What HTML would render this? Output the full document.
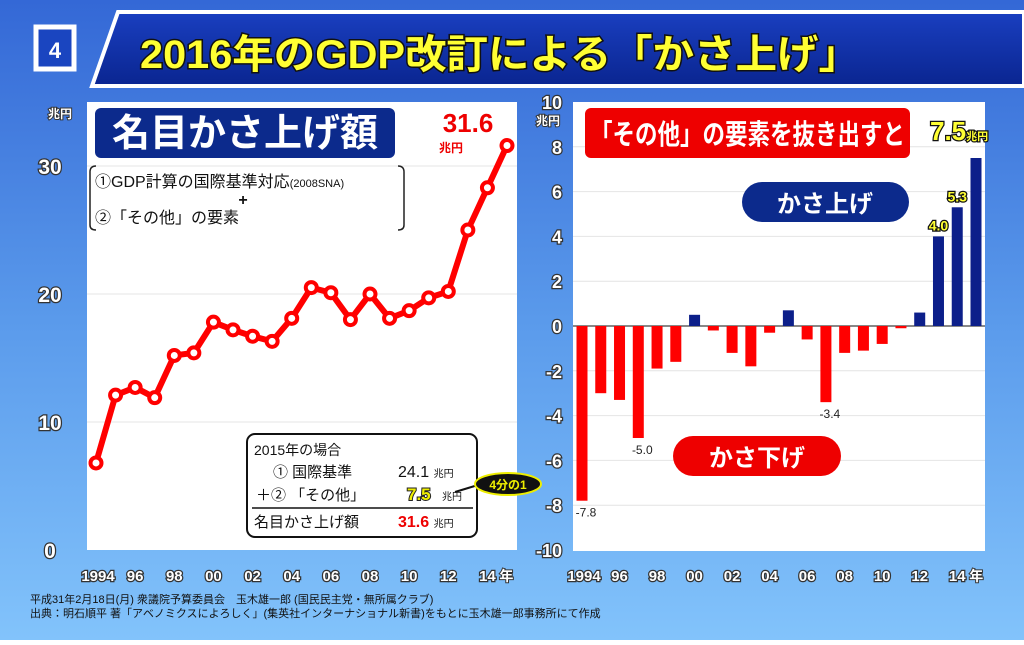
<!DOCTYPE html>
<html><head><meta charset="utf-8"><style>
body{margin:0;width:1024px;height:640px;overflow:hidden;font-family:"Liberation Sans","Noto Sans CJK JP",sans-serif}
text{font-family:"Liberation Sans","Noto Sans CJK JP",sans-serif;paint-order:stroke}
</style></head><body>
<svg id="s" width="1024" height="640" viewBox="0 0 1024 640" xmlns="http://www.w3.org/2000/svg">
<defs>
<linearGradient id="bg" x1="0" y1="0" x2="0" y2="1"><stop offset="0" stop-color="#3468d6"/><stop offset="0.5" stop-color="#5a9aeb"/><stop offset="1" stop-color="#82c3fb"/></linearGradient>
<linearGradient id="ban" x1="0" y1="0" x2="0" y2="1"><stop offset="0" stop-color="#1a3fc0"/><stop offset="1" stop-color="#0a2590"/></linearGradient>
</defs>
<rect width="1024" height="640" fill="url(#bg)"/>
<rect x="36" y="27" width="38" height="42" fill="#1a45c0" stroke="#fff" stroke-width="5"/>
<text x="55" y="58" font-size="22" font-weight="bold" fill="#fff" text-anchor="middle">4</text>
<polygon points="118,12 1024,12 1024,86 92,86" fill="url(#ban)" stroke="#fff" stroke-width="4"/>
<text x="140" y="68" font-size="40" font-weight="bold" fill="#ffff33" stroke="#111" stroke-width="3" textLength="720" lengthAdjust="spacingAndGlyphs">2016年のGDP改訂による「かさ上げ」</text>

<rect x="87" y="102" width="430" height="448" fill="#fff"/>
<rect x="573" y="102" width="412" height="449" fill="#fff"/>
<g id="left"></g>
<g id="right"></g>

<rect x="95" y="108" width="300" height="50" rx="6" fill="#0c2a8c"/>
<text x="245" y="146" font-size="38" font-weight="bold" fill="#fff" text-anchor="middle">名目かさ上げ額</text>
<text x="468" y="132" font-size="26" font-weight="bold" fill="#e00" text-anchor="middle">31.6</text>
<text x="451" y="152" font-size="12" font-weight="bold" fill="#e00" text-anchor="middle">兆円</text>
<path d="M96,166 Q90,166 90,172 L90,225 Q90,230 96,230 M398,166 Q404,166 404,172 L404,225 Q404,230 398,230" fill="none" stroke="#222" stroke-width="1.5"/>
<text x="95" y="187" font-size="16" fill="#111">①GDP計算の国際基準対応<tspan font-size="11">(2008SNA)</tspan></text>
<text x="243" y="205" font-size="16" font-weight="bold" fill="#111" text-anchor="middle">+</text>
<text x="95" y="223" font-size="16" fill="#111">②「その他」の要素</text>

<rect x="247" y="434" width="230" height="103" rx="8" fill="#fff" stroke="#111" stroke-width="2"/>
<text x="254" y="455" font-size="14" fill="#111">2015年の場合</text>
<text x="273" y="477" font-size="15" fill="#111">① 国際基準</text>
<text x="398" y="477" font-size="16" fill="#111">24.1 <tspan font-size="10">兆円</tspan></text>
<text x="256" y="500" font-size="15" fill="#111">＋② 「その他」</text>
<text x="407" y="500" font-size="17" font-weight="bold" fill="#ee0" stroke="#222" stroke-width="2">7.5</text>
<text x="442" y="500" font-size="10" fill="#111">兆円</text>
<line x1="252" y1="508" x2="473" y2="508" stroke="#111" stroke-width="1.5"/>
<text x="254" y="527" font-size="15" fill="#111">名目かさ上げ額</text>
<text x="398" y="527" font-size="16" font-weight="bold" fill="#e00">31.6 <tspan font-size="10" fill="#111" font-weight="normal">兆円</tspan></text>
<line x1="455" y1="492" x2="478" y2="485" stroke="#111" stroke-width="2"/>
<ellipse cx="508" cy="484" rx="33" ry="11" fill="#111" stroke="#ee0" stroke-width="2"/>
<text x="508" y="489" font-size="12" font-weight="bold" fill="#ee0" text-anchor="middle">4分の1</text>

<rect x="585" y="108" width="325" height="50" rx="6" fill="#e00"/>
<text x="590" y="144" font-size="28" font-weight="bold" fill="#fff" textLength="315" lengthAdjust="spacingAndGlyphs">「その他」の要素を抜き出すと</text>
<text x="930" y="140" font-size="26" font-weight="bold" fill="#ff3" stroke="#111" stroke-width="2.5">7.5<tspan font-size="11">兆円</tspan></text>
<rect x="742" y="182" width="167" height="40" rx="20" fill="#0c2a8c"/>
<text x="825" y="212" font-size="24" font-weight="bold" fill="#fff" text-anchor="middle">かさ上げ</text>
<rect x="673" y="436" width="168" height="40" rx="20" fill="#e00"/>
<text x="757" y="466" font-size="24" font-weight="bold" fill="#fff" text-anchor="middle">かさ下げ</text>

<text x="30" y="603" font-size="11" fill="#111">平成31年2月18日(月) 衆議院予算委員会　玉木雄一郎 (国民民主党・無所属クラブ)</text>
<text x="30" y="617" font-size="11" fill="#111">出典：明石順平 著「アベノミクスによろしく」(集英社インターナショナル新書)をもとに玉木雄一郎事務所にて作成</text>
</svg>
<script>
const years=[1994,1995,1996,1997,1998,1999,2000,2001,2002,2003,2004,2005,2006,2007,2008,2009,2010,2011,2012,2013,2014,2015];
const nominalRaise=[6.8,12.1,12.7,11.9,15.2,15.4,17.8,17.2,16.7,16.3,18.1,20.5,20.1,18.0,20.0,18.1,18.7,19.7,20.2,25.0,28.3,31.6];
const otherFactor=[-7.8,-3.0,-3.3,-5.0,-1.9,-1.6,0.5,-0.2,-1.2,-1.8,-0.3,0.7,-0.6,-3.4,-1.2,-1.1,-0.8,-0.1,0.6,4.0,5.3,7.5];
const leftTicks=[0,10,20,30];
const rightTicks=[-10,-8,-6,-4,-2,0,2,4,6,8,10];
const xLabels=["1994","96","98","00","02","04","06","08","10","12","14"];
const negLabels={1994:"-7.8",1997:"-5.0",2007:"-3.4"};
const posLabels={2013:"4.0",2014:"5.3"};
const NS="http://www.w3.org/2000/svg";
function mk(p,t,a,txt){const e=document.createElementNS(NS,t);for(const k in a)e.setAttribute(k,a[k]);if(txt!==undefined)e.textContent=txt;p.appendChild(e);return e;}
const L=document.getElementById('left'),R=document.getElementById('right');
const lx=i=>96+i*(411/21), ly=v=>550-v*12.8;
const rx=i=>582+i*(394/21), ry=v=>326-v*22.4;
leftTicks.forEach(t=>{
 if(t>0){const g=mk(L,'line',{x1:87,x2:517,y1:ly(t),y2:ly(t),stroke:'#e4e4e4'});
 
 }
 const tx=mk(L,'text',{x:50,y:ly(t)+8,'font-size':21,'font-weight':'bold',fill:'#fff',stroke:'#333','stroke-width':2.5,'text-anchor':'middle'},String(t));
 
 
});
const lu=mk(L,'text',{x:60,y:118,'font-size':12,'font-weight':'bold',fill:'#fff',stroke:'#333','stroke-width':2,'text-anchor':'middle'},'兆円');


const line=mk(L,'polyline',{points:nominalRaise.map((v,i)=>lx(i)+','+ly(v)).join(' '),fill:'none',stroke:'#f00','stroke-width':6,'stroke-linejoin':'round'});


nominalRaise.forEach((v,i)=>{
 const c=mk(L,'circle',{cx:lx(i),cy:ly(v),r:5.5,fill:'#fff',stroke:'#f00','stroke-width':4});
 
 
});
rightTicks.forEach(t=>{
 if(t>-10&&t<10){const g=mk(R,'line',{x1:573,x2:985,y1:ry(t),y2:ry(t),stroke:t===0?'#111':'#e4e4e4'});
 
 }
 const tx=mk(R,'text',{x:562,y:ry(t)+7,'font-size':18,'font-weight':'bold',fill:'#fff',stroke:'#333','stroke-width':2.5,'text-anchor':'end'},String(t));
 
 
});
const ru=mk(R,'text',{x:548,y:125,'font-size':12,'font-weight':'bold',fill:'#fff',stroke:'#333','stroke-width':2,'text-anchor':'middle'},'兆円');


otherFactor.forEach((v,i)=>{
 const y0=ry(Math.max(v,0)),h=Math.abs(ry(v)-ry(0));
 const b=mk(R,'rect',{x:rx(i)-5.5,y:y0,width:11,height:Math.max(h,1),fill:v>=0?'#0c1f8a':'#f00'});
 
 
 const yr=years[i];
 if(negLabels[yr]){const t=mk(R,'text',{x:rx(i)+4,y:ry(v)+16,'font-size':12,fill:'#222','text-anchor':'middle'},negLabels[yr]);
  
  }
 if(posLabels[yr]){const t=mk(R,'text',{x:rx(i),y:ry(v)-6,'font-size':14,'font-weight':'bold',fill:'#ff3',stroke:'#111','stroke-width':2.5,'text-anchor':'middle'},posLabels[yr]);
  
  }
});
xLabels.forEach((s,k)=>{
 const i=k*2;
 [[L,lx],[R,rx]].forEach(([g,f])=>{
  const t=mk(g,'text',{x:f(i)+(k===0?2:0),y:581,'font-size':15,'font-weight':'bold',fill:'#fff',stroke:'#333','stroke-width':2.5,'text-anchor':'middle'},s);
  
  
 });
});
[[L,lx],[R,rx]].forEach(([g,f])=>{
 const t=mk(g,'text',{x:f(20)+19,y:581,'font-size':14,'font-weight':'bold',fill:'#fff',stroke:'#333','stroke-width':2,'text-anchor':'middle'},'年');
 
 
});
</script>
</body></html>
